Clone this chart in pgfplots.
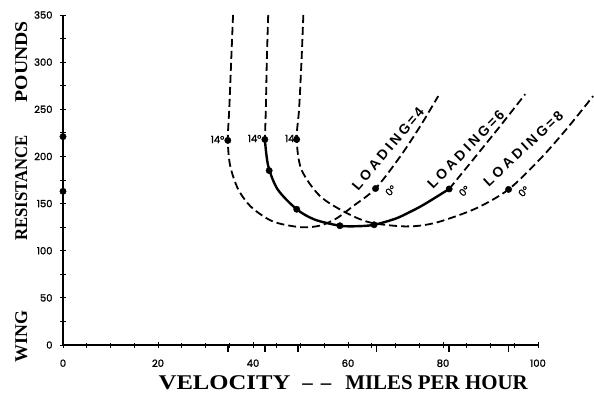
\documentclass[border=0pt]{standalone}
\usepackage{fontspec}
\setmainfont{Liberation Serif}
\newfontfamily\tickfont[FakeBold=1.5]{Poppins}
\newfontfamily\labfont{Liberation Sans}
\usepackage{graphicx}
\usepackage{pgfplots}
\pgfplotsset{compat=1.18}
\begin{document}
\begin{tikzpicture}
\useasboundingbox (-63bp,-58bp) rectangle (531bp,345bp);
\begin{axis}[
  at={(0,0)}, anchor=south west,
  scale only axis, width=475bp, height=330bp,
  xmin=0, xmax=100, ymin=0, ymax=350,
  axis x line=bottom, axis y line=left,
  axis line style={line width=1.8bp, -},
  xtick={0,20,...,100}, minor xtick={5,10,...,95},
  ytick={0,50,...,350}, minor ytick={25,75,...,325},
  tick align=center,
  major tick length=6bp, minor tick length=5bp,
  every tick/.style={line width=1bp, black},
  ticklabel style={font=\tickfont\fontsize{10}{12}\selectfont},
  xticklabel style={yshift=-8bp},
  yticklabel style={xshift=-4bp},
  /pgf/number format/assume math mode=true,
  extra x ticks={34.7,42.5,49.5,66,81.3,93.8},
  extra x tick labels={},
  extra tick style={tick align=outside, major tick length=7bp, every tick/.style={line width=1.8bp, black}},
  clip=false,
  every axis x label/.style={at={(axis description cs:0.59,-0.115)}, anchor=center},
  every axis y label/.style={at={(axis description cs:-0.088,0.464)}, rotate=90, anchor=center},
  xlabel={\fontsize{21}{24}\selectfont\bfseries \scalebox{1.18}[1]{VELOCITY}\hspace{12bp}--\hspace{8bp}--\hspace{14bp}MILES PER HOUR},
  ylabel={\fontsize{18}{22}\selectfont\bfseries WING\hspace{70bp}\scalebox{0.93}[1]{RESISTANCE}\hspace{33bp}\scalebox{1.1}[1]{POUNDS}},
]
% loading 4
\addplot[black, line width=1.8bp, dash pattern=on 8bp off 4bp, smooth, tension=0.5] coordinates {
 (35.8,350) (35.4,300) (35.0,250) (34.7,217) (35.2,190) (36.9,165) (39.7,146) (44.2,131) (49.9,125) (54,126.5) (57.5,134) (61,147) (65.8,166) (71,200) (75.2,232) (79,264)};
% loading 6 dashed top
\addplot[black, line width=1.8bp, dash pattern=on 8bp off 4bp, smooth] coordinates {
 (43.2,350) (42.9,300) (42.7,250) (42.5,218)};
% loading 6 solid
\addplot[black, line width=2.4bp, smooth, tension=0.5] coordinates {
 (42.5,218) (43.2,190) (45.2,165) (49.2,144) (53,133) (58.3,126.5) (62,126) (65.5,127.5) (70,134) (73,141) (76,149) (81.3,165.5)};
% loading 6 dashed continuation
\addplot[black, line width=1.8bp, dash pattern=on 8bp off 4bp, smooth] coordinates {
 (81.3,165.5) (86.4,197) (92,232) (97.3,266)};
% loading 8
\addplot[black, line width=1.8bp, dash pattern=on 8bp off 4bp, smooth, tension=0.5] coordinates {
 (50.6,350) (50.2,300) (49.7,250) (49.2,218) (50.2,186) (54.1,158) (59.7,140) (64.6,130) (70.9,126) (75,126.5) (79.4,131) (87,145) (93.8,165) (100.4,197) (106,229) (111.6,264)};
% points
\addplot[only marks, mark=*, mark size=3.2bp, black] coordinates {
 (34.7,217) (65.8,166) (42.5,218) (43.4,185) (49.2,144) (58.3,126.5) (65.5,127.5) (81.3,165.5) (49.2,218) (93.8,165) (0,221) (0,163)};
% angle labels
\begin{scope}[every node/.style={font=\tickfont\fontsize{10}{11}\selectfont, inner sep=1bp}]
\node[anchor=east] at (axis cs:34.2,218) {14°};
\node[anchor=east] at (axis cs:42.0,219) {14°};
\node[anchor=east, xshift=3bp] at (axis cs:49.2,219) {14°};
\node[xshift=15bp, yshift=-2bp, rotate=45] at (axis cs:65.8,166) {0°};
\node[xshift=15bp, yshift=-2bp, rotate=45] at (axis cs:81.3,165.5) {0°};
\node[xshift=15bp, yshift=-2bp, rotate=45] at (axis cs:93.8,165) {0°};
\end{scope}
\begin{scope}[every node/.style={font=\labfont\bfseries\fontsize{14}{15}\selectfont\addfontfeature{LetterSpace=22}, inner sep=0bp}]
\node[rotate=50] at (axis cs:68.4,208) {LOADING\,=\,4};
\node[rotate=45.7] at (axis cs:84.8,207.5) {LOADING\,=\,6};
\node[rotate=43] at (axis cs:96.9,208.5) {LOADING\,=\,8};
\end{scope}
\end{axis}
\end{tikzpicture}
\end{document}
